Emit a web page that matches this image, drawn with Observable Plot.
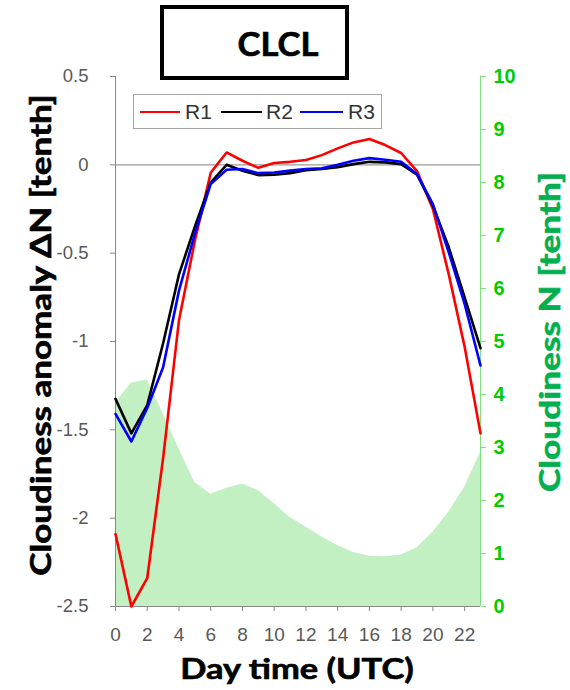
<!DOCTYPE html>
<html><head><meta charset="utf-8">
<script src="https://cdn.jsdelivr.net/npm/d3@7"></script>
<script src="https://cdn.jsdelivr.net/npm/@observablehq/plot@0.6"></script>
<style>
body{margin:0;background:#fff;}
#wrap{position:relative;width:570px;height:690px;overflow:hidden;background:#fff;}
.abs{position:absolute;white-space:nowrap;}
.ttl{font-family:Lato,'Open Sans',sans-serif;font-weight:bold;-webkit-text-stroke:0.6px currentColor;}
.leg{font-family:'Liberation Sans',Arial,sans-serif;font-size:21px;color:#333;}
</style></head><body><div id="wrap"></div>
<script>
// ---- data ----
const hours = [0,1,2,3,4,5,6,7,8,9,10,11,12,13,14,15,16,17,18,19,20,21,22,23];
const cloudN = [3.85,4.21,4.28,3.64,2.97,2.34,2.12,2.23,2.31,2.19,1.94,1.68,1.50,1.31,1.15,1.02,0.95,0.94,0.97,1.11,1.40,1.78,2.25,2.91];
const R1 = [-2.09,-2.50,-2.34,-1.66,-0.88,-0.43,-0.045,0.07,0.023,-0.017,0.01,0.017,0.027,0.055,0.093,0.127,0.146,0.112,0.067,-0.035,-0.25,-0.62,-1.03,-1.52];
const R2 = [-1.325,-1.52,-1.36,-1.01,-0.62,-0.35,-0.10,0.0,-0.033,-0.058,-0.056,-0.047,-0.03,-0.024,-0.013,0.004,0.017,0.014,0.004,-0.055,-0.231,-0.467,-0.75,-1.038];
const R3 = [-1.41,-1.566,-1.376,-1.146,-0.712,-0.391,-0.109,-0.028,-0.024,-0.047,-0.043,-0.033,-0.024,-0.02,0.0,0.023,0.038,0.029,0.017,-0.052,-0.222,-0.495,-0.787,-1.136];
const seriesNames = ["R1","R2","R3"];
const seriesColors = ["#ff0000","#000000","#0000ff"];
const leftTicks = [-2.5,-2,-1.5,-1,-0.5,0,0.5];
const rightTicks = [0,1,2,3,4,5,6,7,8,9,10];
const xTicks = [0,2,4,6,8,10,12,14,16,18,20,22];
const titleText = "CLCL";
const xLabel = "Day time (UTC)";
const yLeftLabel = "Cloudiness anomaly ΔN [tenth]";
const yRightLabel = "Cloudiness N [tenth]";

// right axis (N 0..10) mapped onto left axis (-2.5..0.5)
const toLeft = d3.scaleLinear([0,10],[-2.5,0.5]);
const areaData = hours.map((h,i)=>({h, n: cloudN[i]}));
const seriesVals = [R1,R2,R3];
const lineData = seriesNames.flatMap((s,k)=>hours.map((h,i)=>({h, v: seriesVals[k][i], s})));

const chart = Plot.plot({
  width:570, height:690,
  marginLeft:115, marginRight:90, marginTop:76, marginBottom:84,
  x:{domain:[0,23], axis:null},
  y:{domain:[-2.5,0.5], axis:null},
  color:{domain:seriesNames, range:seriesColors},
  style:{background:"transparent", fontFamily:"'Liberation Sans', Arial, sans-serif"},
  marks:[
    Plot.areaY(areaData, {x:"h", y1:-2.5, y2:d=>toLeft(d.n), fill:"#c3f0c3"}),
    Plot.ruleY([0], {stroke:"#999", strokeWidth:1.2}),
    Plot.ruleY([-2.5], {stroke:"#888"}),
    Plot.ruleX([0], {stroke:"#888"}),
    Plot.ruleX([23], {stroke:"#7ee07e"}),
    Plot.axisY(leftTicks, {anchor:"left", tickSize:5, tickPadding:22, tickFormat:d=>String(d), fontSize:18.5, fill:"#595959", stroke:"#888", label:null}),
    Plot.axisY(rightTicks, {anchor:"right", y:toLeft, tickSize:5, tickPadding:8, tickFormat:d=>String(d), fontSize:20, fontWeight:"bold", fill:"#00cc00", stroke:"#7ee07e", label:null}),
    Plot.axisX(xTicks, {anchor:"bottom", tickSize:5, tickPadding:16, tickFormat:d=>String(d), fontSize:19, fill:"#595959", stroke:"#888", label:null}),
    Plot.line(lineData, {x:"h", y:"v", z:"s", stroke:"s", strokeWidth:2.6})
  ]
});

const wrap = document.getElementById("wrap");
wrap.appendChild(chart);
chart.style.position = "absolute"; chart.style.left = "0"; chart.style.top = "0";

function add(html, style, cls){
  const d = document.createElement("div");
  d.className = "abs " + (cls||"");
  d.innerHTML = html;
  Object.assign(d.style, style);
  wrap.appendChild(d);
  return d;
}
// title box
add("", {left:"160px", top:"5px", width:"189px", height:"75px", border:"4px solid #000", boxSizing:"border-box", background:"#fff"});
add(titleText, {left:"278px", top:"43px", fontSize:"32px", color:"#000", transform:"translate(-50%,-50%) scaleX(1.08)"}, "ttl");
// axis titles
add(xLabel, {left:"297px", top:"668px", fontSize:"28px", color:"#000", transform:"translate(-50%,-50%) scaleX(1.23)"}, "ttl");
add(yLeftLabel, {left:"40px", top:"335px", fontSize:"28px", color:"#000", transform:"translate(-50%,-50%) rotate(-90deg) scaleX(1.25)"}, "ttl");
add(yRightLabel, {left:"549px", top:"332px", fontSize:"28px", color:"#00b050", transform:"translate(-50%,-50%) rotate(-90deg) scaleX(1.26)"}, "ttl");
// legend
add("", {left:"133px", top:"94px", width:"249px", height:"35px", border:"1px solid #a6a6a6", boxSizing:"border-box", background:"#fff"});
const legX = [[140,180,185],[221,262,266],[300,343,348]];
seriesNames.forEach((s,i)=>{
  const [x1,x2,tx] = legX[i];
  add("", {left:x1+"px", top:"110.5px", width:(x2-x1)+"px", height:"2.6px", background:seriesColors[i]});
  add(s, {left:tx+"px", top:"100px", lineHeight:"24px"}, "leg");
});
</script></body></html>
